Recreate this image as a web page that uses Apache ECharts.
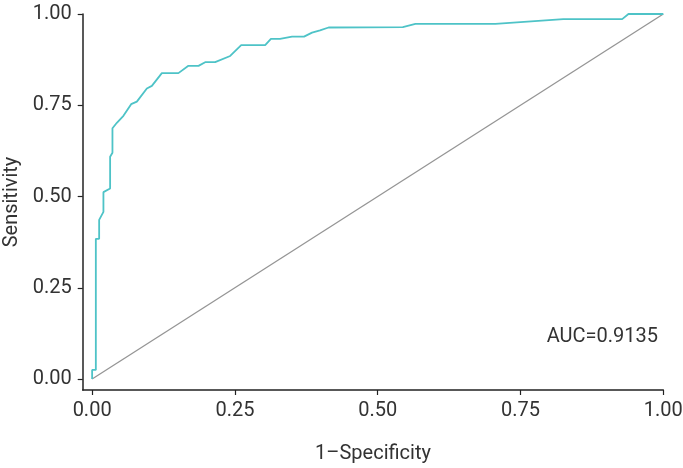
<!DOCTYPE html>
<html>
<head>
<meta charset="utf-8">
<script src="https://cdn.jsdelivr.net/npm/echarts@6/dist/echarts.min.js"></script>
<style>
  html, body { margin: 0; padding: 0; background: #fff; }
  #chart { width: 683px; height: 468px; }
</style>
</head>
<body>
<div id="chart"></div>
<script>
// ROC curve
const fpr = [0, 0, 0.0065, 0.0065, 0.0123, 0.0123, 0.0198, 0.0198, 0.0315, 0.0315,
  0.0356, 0.0356, 0.0433, 0.0548, 0.0683, 0.0783, 0.0958, 0.1046, 0.1221, 0.1511,
  0.1686, 0.1862, 0.1979, 0.2154, 0.2417, 0.261, 0.303, 0.313, 0.329, 0.350,
  0.371, 0.385, 0.399, 0.414, 0.544, 0.566, 0.706, 0.825, 0.928, 0.939, 1.0];
const tpr = [0, 0.025, 0.025, 0.384, 0.384, 0.436, 0.458, 0.512, 0.522, 0.609,
  0.620, 0.687, 0.702, 0.721, 0.753, 0.760, 0.796, 0.803, 0.838, 0.838,
  0.858, 0.858, 0.868, 0.868, 0.885, 0.915, 0.915, 0.932, 0.932, 0.938,
  0.938, 0.949, 0.955, 0.963, 0.964, 0.973, 0.973, 0.986, 0.986, 1.0, 1.0];
const refLine = [[0, 0], [1, 1]];
const tickValues = [0, 0.25, 0.5, 0.75, 1];
const aucText = 'AUC=0.9135';

const font = 'Roboto, "Noto Sans", sans-serif';
const txt = '#333';

const axisCommon = {
  type: 'value',
  max: 1,
  axisLine: { show: true, onZero: false, lineStyle: { color: '#222', width: 1.5 } },
  axisTick: { show: true, customValues: tickValues, length: 5, lineStyle: { color: '#222', width: 1.2 } },
  axisLabel: {
    customValues: tickValues, color: txt, fontSize: 20, fontFamily: font,
    formatter: v => v.toFixed(2)
  },
  splitLine: { show: false },
  nameLocation: 'middle',
  nameTextStyle: { color: txt, fontSize: 20, fontFamily: font }
};

const chart = echarts.init(document.getElementById('chart'));
chart.setOption({
  animation: false,
  title: {
    text: aucText, right: 20, top: 322,
    textStyle: { color: txt, fontSize: 20, fontWeight: 'normal', fontFamily: font }
  },
  grid: {
    left: 82.7, right: 19.7, top: 14, bottom: 78,
    containLabel: false, outerBoundsMode: 'none'
  },
  xAxis: {
    ...axisCommon, min: -0.0165, name: '1–Specificity', nameGap: 54,
    axisLabel: { ...axisCommon.axisLabel, margin: 11 }
  },
  yAxis: {
    ...axisCommon, min: -0.03, name: 'Sensitivity', nameGap: 56,
    axisLabel: { ...axisCommon.axisLabel, margin: 11 }
  },
  series: [
    {
      type: 'line', data: refLine, symbol: 'none', silent: true,
      lineStyle: { color: '#959595', width: 1.3 }
    },
    {
      type: 'line', data: fpr.map((x, i) => [x, tpr[i]]), symbol: 'none',
      lineStyle: { color: '#4ec3c7', width: 1.8 }
    }
  ]
});
</script>
</body>
</html>
